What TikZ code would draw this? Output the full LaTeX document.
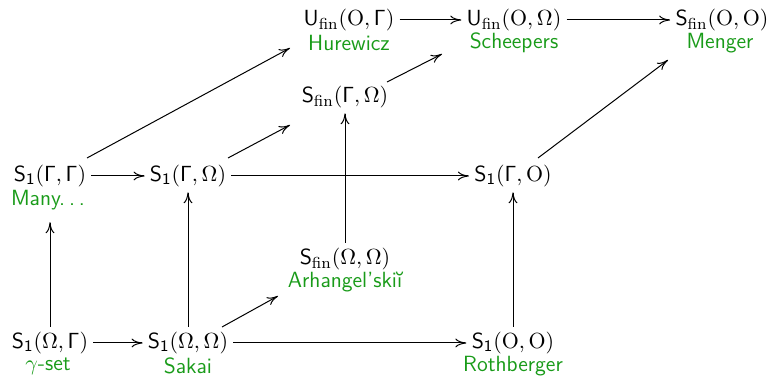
\documentclass[tikz,border=0pt]{standalone}
\usetikzlibrary{calc,arrows.meta}
\definecolor{lblgreen}{RGB}{25,155,25}
\newcommand\mySone{\mathsf{S}_{\mathsf{1}}}
\newcommand\mySfin{\mathsf{S}_{\mathrm{fin}}}
\newcommand\myUfin{\mathsf{U}_{\mathrm{fin}}}
\newcommand\myG{\mathsf{\Gamma}}
\newcommand\myO{\mathrm{O}}
\begin{document}
\begin{tikzpicture}[x=0.5pt,y=-0.5pt,
  frm/.style={inner sep=2.5pt, font=\fontsize{11}{13}\selectfont},
  lbl/.style={inner sep=1pt, text=lblgreen, font=\fontsize{11}{13}\selectfont\sffamily},
  arr/.style={-{To[length=5.5pt,width=4.4pt]}, line width=0.5pt}]
\useasboundingbox (0,0) rectangle (777,378);
% top row
\node[frm] (ufg) at (349,20) {$\myUfin(\myO,\myG)$};
\node[lbl] (hur) at (349,43) {Hurewicz};
\node[frm] (ufo) at (514,20) {$\myUfin(\myO,\Omega)$};
\node[lbl] (sch) at (514,43) {Scheepers};
\node[frm] (sfoo) at (722,20) {$\mySfin(\myO,\myO)$};
\node[lbl] (men) at (720,43) {Menger};
\node[frm] (sfgo) at (345,97) {$\mySfin(\myG,\Omega)$};
% middle row
\node[frm] (gg) at (50,176) {$\mySone(\myG,\myG)$};
\node[lbl] (many) at (48,200) {Many.\kern0.18em.\kern0.18em.};
\node[frm] (go) at (188,176) {$\mySone(\myG,\Omega)$};
\node[frm] (gO) at (513,176) {$\mySone(\myG,\myO)$};
\node[frm] (sfoo2) at (345,259) {$\mySfin(\Omega,\Omega)$};
\node[lbl] (arh) at (345,282) {Arhangel'ski\u{\i}};
% bottom row
\node[frm] (og) at (50,343) {$\mySone(\Omega,\myG)$};
\node[lbl] (gam) at (48,366) {$\gamma$-set};
\node[frm] (oo) at (188,343) {$\mySone(\Omega,\Omega)$};
\node[lbl] (sak) at (188,366) {Sakai};
\node[frm] (OO) at (513,343) {$\mySone(\myO,\myO)$};
\node[lbl] (rot) at (513,366) {Rothberger};
% horizontal arrows
\draw[arr] (ufg) -- (ufo);
\draw[arr] (ufo) -- (sfoo);
\draw[arr] (gg) -- (go);
\draw[arr] (go) -- (gO);
\draw[arr] (og) -- (oo);
\draw[arr] (oo) -- (OO);
% vertical arrows
\draw[arr] (og.north) -- ([yshift=-5pt]og.north |- many.south);
\draw[arr] (oo.north) -- (oo.north |- go.south);
\draw[arr] (OO.north) -- (OO.north |- gO.south);
\draw[arr] (sfoo2.north) -- (sfoo2.north |- sfgo.south);
% diagonal arrows
\draw[arr] ($(oo)+(34,-16)$) -- ($(sfoo2)+(-67,37)$);
\draw[arr] ($(gg)+(37,-18)$) -- ($(ufg)+(-59,28)$);
\draw[arr] ($(go)+(40,-18)$) -- ($(sfgo)+(-55,28)$);
\draw[arr] ($(sfgo)+(42,-15)$) -- ($(ufo)+(-72,34)$);
\draw[arr] ($(gO)+(25,-18)$) -- ($(sfoo)+(-54,40)$);
\end{tikzpicture}
\end{document}
